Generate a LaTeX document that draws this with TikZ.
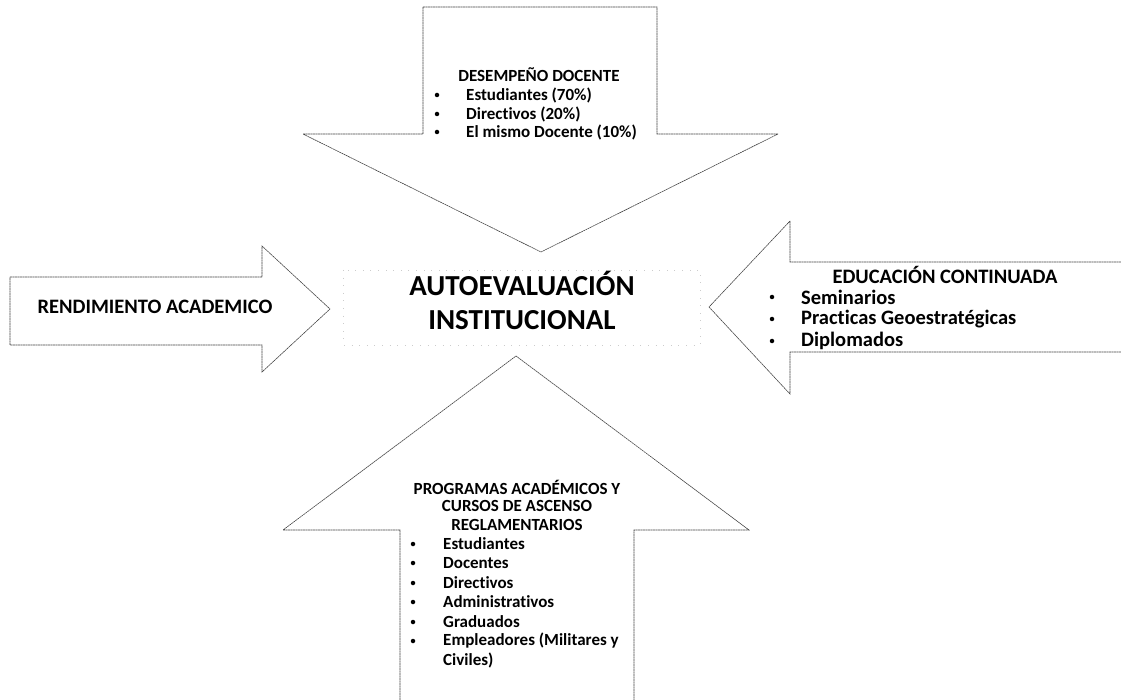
\documentclass[tikz,border=0pt]{standalone}
\usepackage{fontspec}
\setmainfont{Carlito}[Ligatures=NoCommon]
\begin{document}
\begin{tikzpicture}[x=1pt,y=-1pt,
  ol/.style={draw=black!75, line width=0.6pt, dash pattern=on 2pt off 0.5pt, line join=miter},
  faint/.style={draw=black!20, line width=0.5pt, dash pattern=on 0.6pt off 7pt},
  bul/.style={circle, fill=black, inner sep=0pt, minimum size=4.5pt},
  hd/.style={inner sep=0pt, font=\bfseries\fontsize{17}{20}\selectfont},
  it/.style={inner sep=0pt, anchor=west, font=\bfseries\fontsize{17}{20}\selectfont},
  hdr/.style={inner sep=0pt, font=\bfseries\fontsize{20.5}{24}\selectfont},
  itr/.style={inner sep=0pt, anchor=west, font=\bfseries\fontsize{20.5}{24}\selectfont},
  ctr/.style={inner sep=0pt, font=\bfseries\fontsize{29}{34}\selectfont}]
\useasboundingbox (0,0) rectangle (1121,700);
% top arrow
\draw[ol] (423,7) -- (657,7) -- (657,134) -- (778,134) -- (541,252) -- (303,134) -- (423,134) -- cycle;
% left arrow
\draw[ol] (10,277) -- (262,277) -- (262,246) -- (330,309) -- (262,372) -- (262,345) -- (10,345) -- cycle;
% right arrow
\draw[ol] (1121,262) -- (790,262) -- (790,221) -- (709,307) -- (790,394) -- (790,352) -- (1121,352);
% bottom arrow
\draw[ol] (400,700) -- (400,530) -- (283,530) -- (516,356) -- (749,530) -- (634,530) -- (634,700);
% faint centre box
\draw[faint] (343,270) rectangle (700,345);

% centre
\node[ctr] (c1) at (522,283) {AUTOEVALUACIÓN};
\node[ctr] (c2) at (522,320) {INSTITUCIONAL};

% top
\node[hd] (t0) at (539,75) {DESEMPEÑO DOCENTE};
\node[bul] (tb1) at (437,95) {};
\node[bul] (tb2) at (437,114) {};
\node[bul] (tb3) at (437,132) {};
\node[it] (t1) at (466,95) {Estudiantes (70\%)};
\node[it] (t2) at (466,114) {Directivos (20\%)};
\node[it] (t3) at (466,132) {El mismo Docente (10\%)};

% left
\node[hdr] (l0) at (155,307) {RENDIMIENTO ACADEMICO};

% right
\node[hdr] (r0) at (945,275) {EDUCACIÓN CONTINUADA};
\node[bul] (rb1) at (772,297) {};
\node[bul] (rb2) at (772,319) {};
\node[bul] (rb3) at (772,341) {};
\node[itr] (r1) at (801,297) {Seminarios};
\node[itr] (r2) at (801,319) {Practicas Geoestratégicas};
\node[itr] (r3) at (801,341) {Diplomados};

% bottom
\node[hd] (b0) at (517,487) {PROGRAMAS ACADÉMICOS Y};
\node[hd] (b00) at (517,506) {CURSOS DE ASCENSO};
\node[hd] (b000) at (517,525) {REGLAMENTARIOS};
\foreach \yy [count=\i] in {544,563,583,602,622,641} {
  \node[bul] (bb\i) at (413,\yy) {};
}
\node[it] (b1) at (443,544) {Estudiantes};
\node[it] (b2) at (443,563) {Docentes};
\node[it] (b3) at (443,583) {Directivos};
\node[it] (b4) at (443,602) {Administrativos};
\node[it] (b5) at (443,622) {Graduados};
\node[it] (b6) at (443,641) {Empleadores (Militares y};
\node[it] (b7) at (443,660) {Civiles)};
\end{tikzpicture}
\end{document}
